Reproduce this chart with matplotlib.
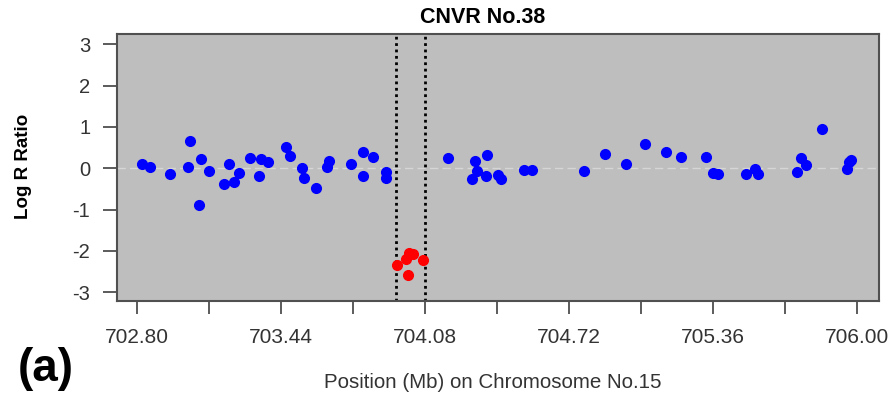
import numpy as np
from matplotlib import pyplot as plt

# Log R Ratio probes along chromosome 15 (blue = normal, red = inside CNVR)
pos_normal = [702.825, 702.859, 702.948, 703.037, 703.027, 703.086, 703.078, 703.121,
              703.188, 703.212, 703.231, 703.255, 703.302, 703.345, 703.351, 703.382,
              703.464, 703.483, 703.536, 703.542, 703.597, 703.644, 703.656, 703.751,
              703.807, 703.807, 703.849, 703.907, 703.907,
              704.182, 704.304, 704.310, 704.292, 704.357, 704.351, 704.404, 704.419,
              704.523, 704.557, 704.788, 704.880, 704.973, 705.058,
              705.154, 705.219, 705.329, 705.363, 705.382, 705.507, 705.549, 705.561,
              705.735, 705.752, 705.772, 705.843, 705.956, 705.967, 705.976]
lrr_normal = [0.10, 0.02, -0.15, 0.67, 0.04, 0.22, -0.89, -0.07,
              -0.38, 0.10, -0.33, -0.12, 0.24, -0.18, 0.23, 0.15,
              0.51, 0.30, 0.01, -0.24, -0.49, 0.02, 0.17, 0.10,
              0.39, -0.18, 0.27, -0.08, -0.24,
              0.25, 0.18, -0.06, -0.27, 0.33, -0.18, -0.17, -0.27,
              -0.04, -0.04, -0.07, 0.35, 0.10, 0.58,
              0.39, 0.27, 0.27, -0.12, -0.15, -0.15, -0.02, -0.15,
              -0.10, 0.25, 0.08, 0.95, -0.01, 0.14, 0.20]

pos_cnv = [703.956, 704.004, 703.997, 704.012, 704.029, 704.074]
lrr_cnv = [-2.35, -2.58, -2.19, -2.04, -2.08, -2.21]

cnvr_start, cnvr_end = 703.952, 704.080
xticks = np.round(np.arange(702.80, 706.01, 0.32), 2)
yticks = [-3, -2, -1, 0, 1, 2, 3]

plt.rcParams['font.family'] = ['Liberation Sans', 'DejaVu Sans']
plt.rcParams['axes.unicode_minus'] = False

fig = plt.figure(figsize=(8.94, 3.98), dpi=100)
ax = fig.add_axes([0.1305, 0.2445, 0.8531, 0.6701])
ax.set_facecolor('#bebebe')

ax.axhline(0, color='#d6d6d6', lw=1, ls=(0, (6, 3)), zorder=1)
ax.axvline(cnvr_start, color='black', lw=2, ls=(0, (1, 1.3)), zorder=2)
ax.axvline(cnvr_end, color='black', lw=2, ls=(0, (1, 1.3)), zorder=2)

ax.plot(pos_normal, lrr_normal, 'o', color='#0000ff', ms=7, mec='#0000ff', zorder=3)
ax.plot(pos_cnv, lrr_cnv, 'o', color='#ff0000', ms=7, mec='#ff0000', zorder=3)

ax.set_xlim(702.711, 706.100)
ax.set_ylim(-3.206, 3.25)

ax.set_xticks(xticks)
ax.set_xticklabels(['%.2f' % v if i % 2 == 0 else '' for i, v in enumerate(xticks)])
ax.set_yticks(yticks)
ax.tick_params(axis='x', length=9, width=1.2, color='#404040', pad=11,
               labelsize=15, labelcolor='#333333')
ax.tick_params(axis='y', length=10, width=1.2, color='#404040', pad=9,
               labelsize=14.5, labelcolor='#333333')
for s in ax.spines.values():
    s.set_color('#505050')
    s.set_linewidth(1.5)

fig.text(0.54, 0.955, 'CNVR No.38', ha='center', va='center',
         fontsize=15.5, fontweight='bold')
fig.text(0.026, 0.583, 'Log R Ratio', ha='center', va='center', rotation=90,
         fontsize=13.5, fontweight='bold')
fig.text(0.551, 0.04, 'Position (Mb) on Chromosome No.15', ha='center', va='center',
         fontsize=14.8, color='#333333')
fig.text(0.051, 0.072, '(a)', ha='center', va='center', fontsize=33,
         fontweight='bold')

fig.savefig('out.png', dpi=100)
